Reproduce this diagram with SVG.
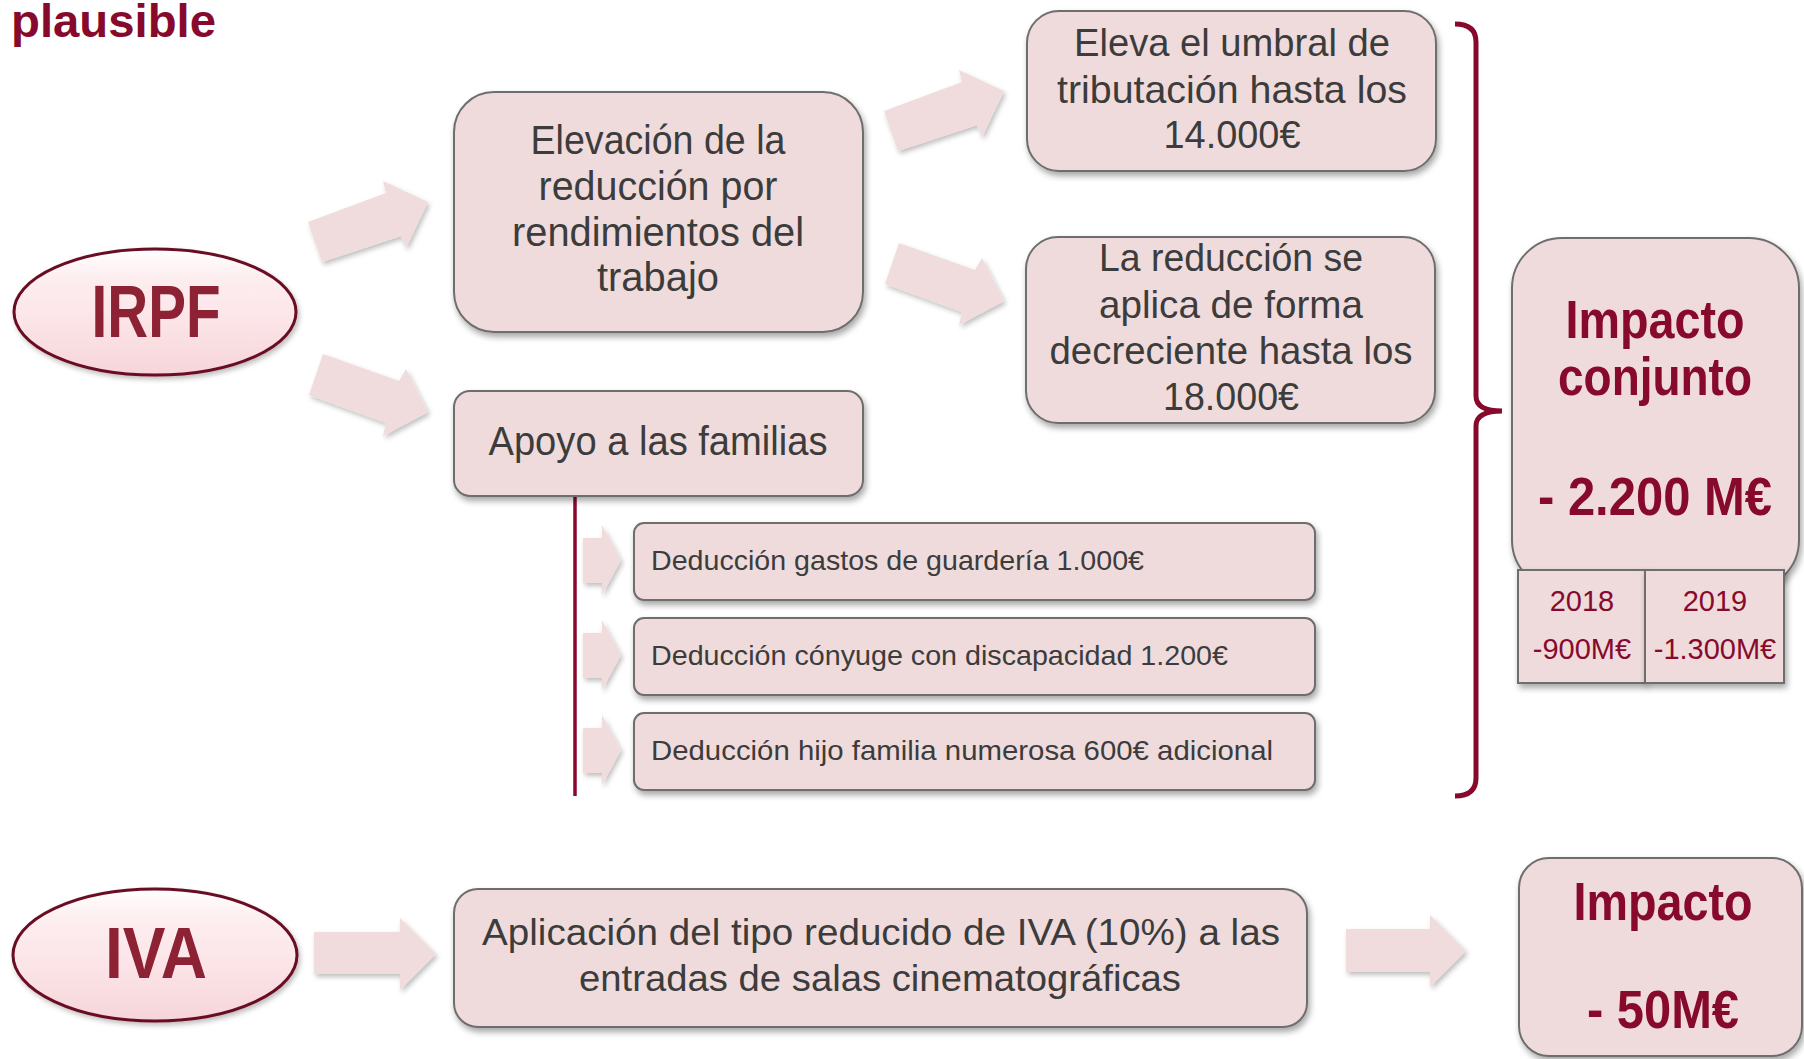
<svg xmlns="http://www.w3.org/2000/svg" width="1804" height="1059" viewBox="0 0 1804 1059">
<defs>
<filter id="sh" x="-10%" y="-10%" width="130%" height="140%">
<feDropShadow dx="2" dy="4" stdDeviation="3" flood-color="#000" flood-opacity="0.35"/>
</filter>
<filter id="sha" x="-10%" y="-10%" width="130%" height="140%">
<feDropShadow dx="2" dy="3" stdDeviation="2.5" flood-color="#000" flood-opacity="0.25"/>
</filter>
<linearGradient id="eg" x1="0" y1="0" x2="0" y2="1">
<stop offset="0" stop-color="#ffffff"/>
<stop offset="0.22" stop-color="#fdeef0"/>
<stop offset="0.55" stop-color="#fce5e8"/>
<stop offset="1" stop-color="#f6d5da"/>
</linearGradient>
<style>
.box{fill:#efdbdb;stroke:#6e6e6e;stroke-width:2;filter:url(#sh)}
.arr{fill:#f0dcdc;filter:url(#sha)}
.ell{fill:url(#eg);stroke:#6a0d24;stroke-width:3;filter:url(#sha)}
.t{font-family:"Liberation Sans",Arial,sans-serif;fill:#3c3c3c;text-anchor:middle}
.d{font-family:"Liberation Sans",Arial,sans-serif;fill:#3c3c3c;font-size:28px}
.r{font-family:"Liberation Sans",Arial,sans-serif;fill:#870a2d;text-anchor:middle}
.e{font-family:"Liberation Sans",Arial,sans-serif;fill:#8c2233;text-anchor:middle;font-weight:bold}
.rb{font-family:"Liberation Sans",Arial,sans-serif;fill:#870a2d;text-anchor:middle;font-weight:bold;font-size:53px}
</style>
</defs>
<rect width="1804" height="1059" fill="#ffffff"/>

<text x="11" y="37" font-family="Liberation Sans,Arial,sans-serif" font-weight="bold" font-size="46" fill="#870a2d" textLength="205" lengthAdjust="spacingAndGlyphs">plausible</text>

<g id="connectors">
<polygon class="arr" points="308,222 386,193 383,181 428,202 406,248 401,236 322,262"/>
<polygon class="arr" points="323,354 399,381 406,369 428,412 383,436 386,423 309,395"/>
<polygon class="arr" points="884,111 962,82 959,70 1004,91 982,137 977,125 898,151"/>
<polygon class="arr" points="899,243 975,270 982,258 1004,301 959,325 962,312 885,284"/>
<line x1="575" y1="496" x2="575" y2="796" stroke="#870a2d" stroke-width="3.5"/>
<polygon class="arr" points="583,538 602,538 602,525 621,560 602,595 602,583 583,583"/>
<polygon class="arr" points="583,633 602,633 602,620 621,655 602,690 602,678 583,678"/>
<polygon class="arr" points="583,728 602,728 602,715 621,750 602,785 602,773 583,773"/>
<path d="M1455,24 Q1476,24 1476,42 L1476,396 Q1476,411 1502,411 Q1476,411 1476,426 L1476,778 Q1476,796 1455,796" fill="none" stroke="#870a2d" stroke-width="5"/>
<polygon class="arr" points="314,932 400,932 400,918 436,954 400,990 400,974 314,974"/>
<polygon class="arr" points="1346,929 1430,929 1430,915 1466,951 1430,987 1430,972 1346,972"/>
</g>

<g id="irpf">
<ellipse class="ell" cx="155" cy="312" rx="141" ry="63"/>
<text class="e" x="156" y="337" font-size="75" textLength="129" lengthAdjust="spacingAndGlyphs">IRPF</text>
</g>

<g id="elevacion">
<rect class="box" x="454" y="92" width="409" height="240" rx="40"/>
<text class="t" x="658" y="154" font-size="40" textLength="255" lengthAdjust="spacingAndGlyphs">Elevación de la</text>
<text class="t" x="658" y="200" font-size="40" textLength="239" lengthAdjust="spacingAndGlyphs">reducción por</text>
<text class="t" x="658" y="246" font-size="40" textLength="292" lengthAdjust="spacingAndGlyphs">rendimientos del</text>
<text class="t" x="658" y="291" font-size="40" textLength="122" lengthAdjust="spacingAndGlyphs">trabajo</text>
</g>

<g id="apoyo">
<rect class="box" x="454" y="391" width="409" height="105" rx="16"/>
<text class="t" x="658" y="455" font-size="40" textLength="339" lengthAdjust="spacingAndGlyphs">Apoyo a las familias</text>
</g>

<g id="umbral">
<rect class="box" x="1027" y="11" width="409" height="160" rx="32"/>
<text class="t" x="1232" y="56" font-size="39" textLength="316" lengthAdjust="spacingAndGlyphs">Eleva el umbral de</text>
<text class="t" x="1232" y="103" font-size="39" textLength="350" lengthAdjust="spacingAndGlyphs">tributación hasta los</text>
<text class="t" x="1232" y="148" font-size="39" textLength="137" lengthAdjust="spacingAndGlyphs">14.000€</text>
</g>

<g id="decreciente">
<rect class="box" x="1026" y="237" width="409" height="186" rx="32"/>
<text class="t" x="1231" y="271" font-size="39" textLength="264" lengthAdjust="spacingAndGlyphs">La reducción se</text>
<text class="t" x="1231" y="318" font-size="39" textLength="264" lengthAdjust="spacingAndGlyphs">aplica de forma</text>
<text class="t" x="1231" y="364" font-size="39" textLength="363" lengthAdjust="spacingAndGlyphs">decreciente hasta los</text>
<text class="t" x="1231" y="410" font-size="39" textLength="136" lengthAdjust="spacingAndGlyphs">18.000€</text>
</g>

<g id="guarderia">
<rect class="box" x="634" y="523" width="681" height="77" rx="10"/>
<text class="d" x="651" y="570" textLength="493" lengthAdjust="spacingAndGlyphs">Deducción gastos de guardería 1.000€</text>
</g>
<g id="conyuge">
<rect class="box" x="634" y="618" width="681" height="77" rx="10"/>
<text class="d" x="651" y="665" textLength="577" lengthAdjust="spacingAndGlyphs">Deducción cónyuge con discapacidad 1.200€</text>
</g>
<g id="numerosa">
<rect class="box" x="634" y="713" width="681" height="77" rx="10"/>
<text class="d" x="651" y="760" textLength="622" lengthAdjust="spacingAndGlyphs">Deducción hijo familia numerosa 600€ adicional</text>
</g>

<g id="impacto-conjunto">
<rect class="box" x="1512" y="238" width="287" height="352" rx="50"/>
<text class="rb" x="1655" y="338" textLength="179" lengthAdjust="spacingAndGlyphs">Impacto</text>
<text class="rb" x="1655" y="395" textLength="194" lengthAdjust="spacingAndGlyphs">conjunto</text>
<text class="rb" x="1655" y="515" textLength="234" lengthAdjust="spacingAndGlyphs">- 2.200 M€</text>
</g>

<g id="anual">
<rect class="box" x="1518" y="570" width="127" height="113" rx="0"/>
<rect class="box" x="1645" y="570" width="139" height="113" rx="0"/>
<text class="r" x="1582" y="611" font-size="29">2018</text>
<text class="r" x="1582" y="659" font-size="29">-900M€</text>
<text class="r" x="1715" y="611" font-size="29">2019</text>
<text class="r" x="1715" y="659" font-size="29">-1.300M€</text>
</g>

<g id="iva">
<ellipse class="ell" cx="155" cy="955" rx="142" ry="66"/>
<text class="e" x="156" y="978" font-size="73" textLength="102" lengthAdjust="spacingAndGlyphs">IVA</text>
</g>

<g id="cine">
<rect class="box" x="454" y="889" width="853" height="138" rx="24"/>
<text class="t" x="881" y="945" font-size="37" textLength="798" lengthAdjust="spacingAndGlyphs">Aplicación del tipo reducido de IVA (10%) a las</text>
<text class="t" x="880" y="991" font-size="37" textLength="602" lengthAdjust="spacingAndGlyphs">entradas de salas cinematográficas</text>
</g>

<g id="impacto-iva">
<rect class="box" x="1519" y="858" width="283" height="198" rx="30"/>
<text class="rb" x="1663" y="920" textLength="179" lengthAdjust="spacingAndGlyphs">Impacto</text>
<text class="rb" x="1663" y="1028" textLength="152" lengthAdjust="spacingAndGlyphs">- 50M€</text>
</g>
</svg>
